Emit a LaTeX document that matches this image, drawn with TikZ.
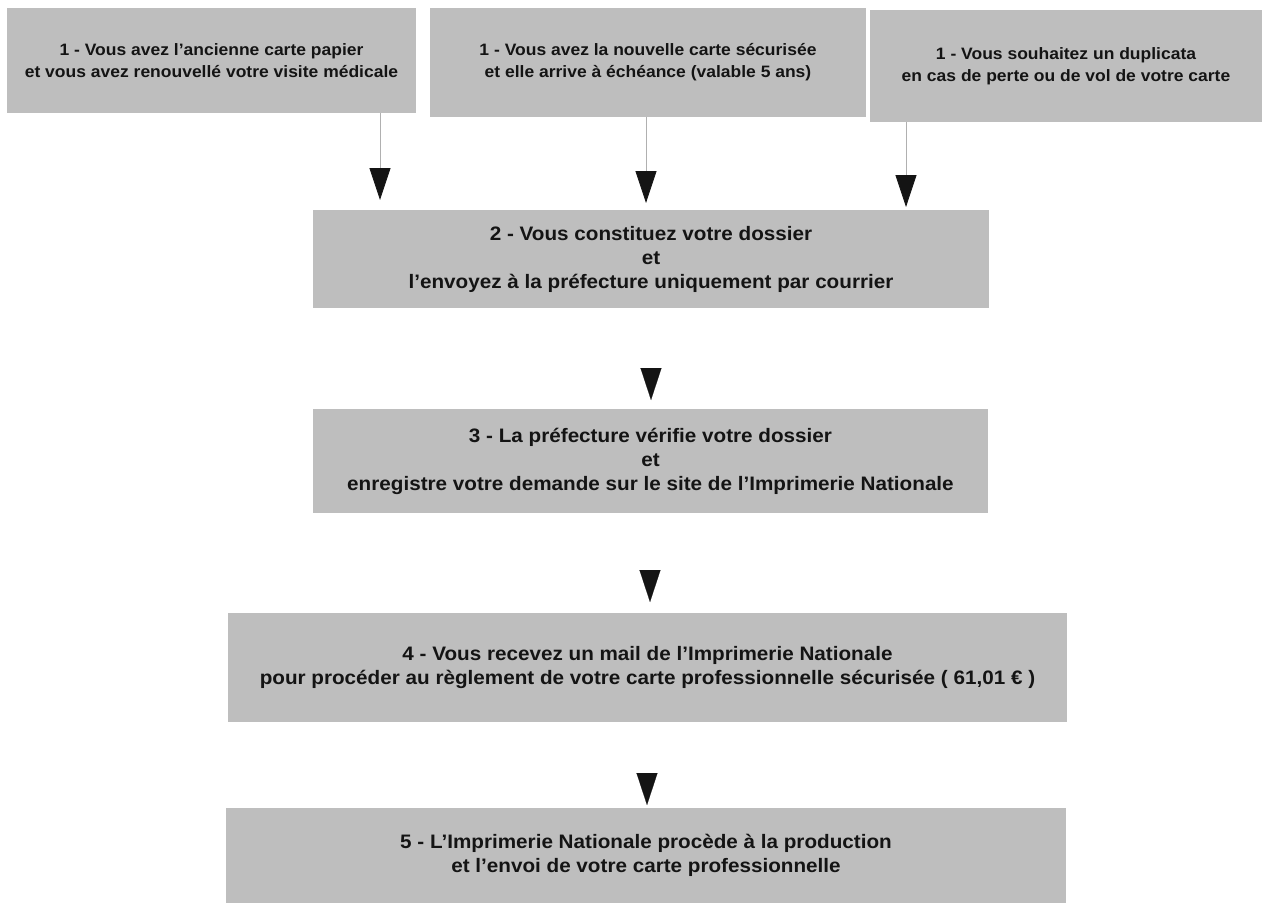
\documentclass[tikz,border=0pt]{standalone}
\usepackage{fontspec}
\setmainfont[FakeStretch=1.06]{Liberation Sans}
\usetikzlibrary{arrows.meta}
\definecolor{boxgray}{HTML}{BEBEBE}
\definecolor{linegray}{HTML}{B0B0B0}
\tikzset{
  box/.style={fill=boxgray, draw=none, align=center, inner sep=0pt, text=black!92},
  topfont/.style={font=\fontsize{16.5}{22}\selectfont\bfseries},
  lowfont/.style={font=\fontsize{19.5}{24}\selectfont\bfseries},
  tip/.style={-{Triangle[width=21pt,length=32pt,black!92]}},
  feed/.style={tip, draw=linegray, line width=0.8pt},
  flow/.style={tip, draw=white, line width=0.1pt, shorten <=20pt}
}
\begin{document}
\begin{tikzpicture}[x=1pt,y=-1pt]
\useasboundingbox (0,0) rectangle (1266,905);
\node[box, topfont, minimum width=409pt, minimum height=105pt] (b1a) at (211.5,60.5)
  {1 - Vous avez l'ancienne carte papier\\et vous avez renouvellé votre visite médicale};
\node[box, topfont, minimum width=436pt, minimum height=109pt] (b1b) at (648,62.5)
  {1 - Vous avez la nouvelle carte sécurisée\\et elle arrive à échéance (valable 5 ans)};
\node[box, topfont, minimum width=392pt, minimum height=112pt] (b1c) at (1066,66)
  {1 - Vous souhaitez un duplicata\\en cas de perte ou de vol de votre carte};
\node[box, lowfont, minimum width=676pt, minimum height=98pt] (b2) at (651,259)
  {2 - Vous constituez votre dossier\\et\\l'envoyez à la préfecture uniquement par courrier};
\node[box, lowfont, minimum width=675pt, minimum height=104pt] (b3) at (650.5,461)
  {3 - La préfecture vérifie votre dossier\\et\\enregistre votre demande sur le site de l'Imprimerie Nationale};
\node[box, lowfont, minimum width=839pt, minimum height=109pt] (b4) at (647.5,667.5)
  {4 - Vous recevez un mail de l'Imprimerie Nationale\\pour procéder au règlement de votre carte professionnelle sécurisée ( 61,01 € )};
\node[box, lowfont, minimum width=840pt, minimum height=95pt] (b5) at (646,855.5)
  {5 - L'Imprimerie Nationale procède à la production\\et l'envoi de votre carte professionnelle};
\coordinate (t1) at (380,200);
\coordinate (t2) at (646,203);
\coordinate (t3) at (906,207);
\coordinate (t4) at (651,400);
\coordinate (t5) at (650,602);
\coordinate (t6) at (647,805);
\draw[feed] (b1a.south -| t1) -- (t1);
\draw[feed] (b1b.south -| t2) -- (t2);
\draw[feed] (b1c.south -| t3) -- (t3);
\draw[flow] (b2.south -| t4) -- (t4);
\draw[flow] (b3.south -| t5) -- (t5);
\draw[flow] (b4.south -| t6) -- (t6);
\end{tikzpicture}
\end{document}
